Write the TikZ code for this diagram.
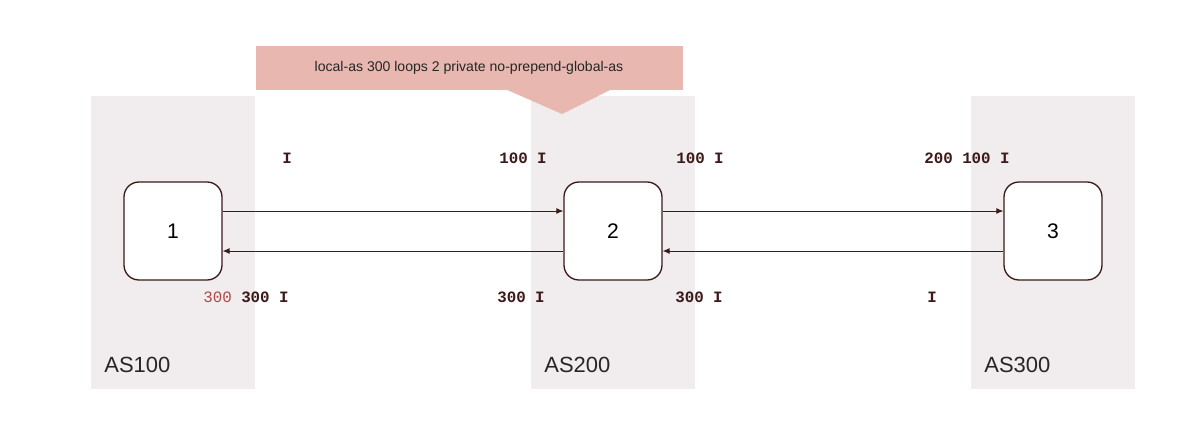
\documentclass[tikz,border=0pt]{standalone}
\usepackage{fontspec}
\setmainfont{Liberation Sans}
\setmonofont{Liberation Mono}
\usetikzlibrary{positioning}
\usetikzlibrary{arrows.meta}

\definecolor{asgrey}{HTML}{F1EDEE}
\definecolor{notefill}{HTML}{E8B8B0}
\definecolor{linkcol}{HTML}{3C1A1A}
\definecolor{pathred}{HTML}{B04848}

\tikzset{
  router/.style={draw=linkcol,line width=0.75pt,fill=white,rounded corners=8.5pt,
    minimum width=1.96cm,minimum height=1.96cm,font=\fontsize{12}{14}\selectfont},
  link/.style={draw=linkcol,line width=0.55pt,-{Latex[length=4pt,width=3.5pt]}},
  aspath/.style={font=\ttfamily\bfseries\fontsize{9}{11}\selectfont,text=linkcol,inner sep=0pt},
  asname/.style={font=\fontsize{12.5}{14}\selectfont,text=black!85,anchor=west,inner sep=0pt}
}

\begin{document}
\begin{tikzpicture}[x=0.02cm,y=-0.02cm]
    %frame
    \fill[white] (0,0) rectangle (1200,440);
    % AS areas
    \fill[asgrey] (91,96) rectangle (255,389);
    \fill[asgrey] (531,96) rectangle (695,389);
    \fill[asgrey] (971,96) rectangle (1135,389);
    \node[asname] (as100) at (104,365) {AS100};
    \node[asname] (as200) at (544,365) {AS200};
    \node[asname] (as300) at (984,365) {AS300};
    % callout
    \fill[notefill] (256,46) rectangle (683,90);
    \fill[notefill] (505,89) -- (612,89) -- (562,114) -- cycle;
    \node[font=\fontsize{8}{10}\selectfont,text=black!85] (note) at (469,68) {local-as 300 loops 2 private no-prepend-global-as};
    % routers
    \node[router] (r1) at (173,231) {1};
    \node[router] (r2) at (613,231) {2};
    \node[router] (r3) at (1053,231) {3};
    % links
    \draw[link] ([yshift=0.4cm]r1.east) -- ([yshift=0.4cm]r2.west);
    \draw[link] ([yshift=-0.4cm]r2.west) -- ([yshift=-0.4cm]r1.east);
    \draw[link] ([yshift=0.4cm]r2.east) -- ([yshift=0.4cm]r3.west);
    \draw[link] ([yshift=-0.4cm]r3.west) -- ([yshift=-0.4cm]r2.east);
    % AS paths
    \node[aspath] (p1) at (287,158) {I};
    \node[aspath] (p2) at (523,158) {100 I};
    \node[aspath] (p3) at (700,158) {100 I};
    \node[aspath] (p4) at (967,158) {200 100 I};
    \node[aspath] (q1) at (246,297) {{\mdseries\color{pathred}300} 300 I};
    \node[aspath] (q2) at (521,297) {300 I};
    \node[aspath] (q3) at (699,297) {300 I};
    \node[aspath] (q4) at (932,297) {I};
\end{tikzpicture}
\end{document}
